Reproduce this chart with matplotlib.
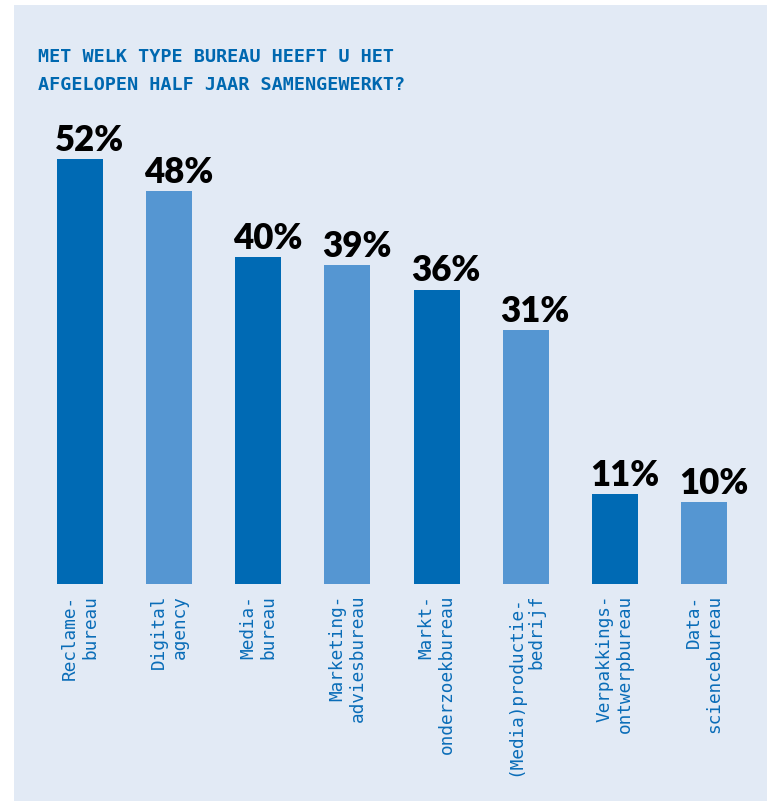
import matplotlib
matplotlib.use("Agg")
import matplotlib.pyplot as plt
from matplotlib.patches import Rectangle

# Survey results: agency types worked with in the past six months
categories = [
    "Reclame-\nbureau",
    "Digital\nagency",
    "Media-\nbureau",
    "Marketing-\nadviesbureau",
    "Markt-\nonderzoekbureau",
    "(Media)productie-\nbedrijf",
    "Verpakkings-\nontwerpbureau",
    "Data-\nsciencebureau",
]
values = [52, 48, 40, 39, 36, 31, 11, 10]
title_lines = ["MET WELK TYPE BUREAU HEEFT U HET",
               "AFGELOPEN HALF JAAR SAMENGEWERKT?"]

PANEL = "#E2EAF5"
DARK = "#006AB4"
LIGHT = "#5596D2"
TITLE = "#0068B0"
LABEL = "#0A6DB8"

W, H = 767, 803
fig = plt.figure(figsize=(W / 100, H / 100), dpi=100, facecolor="white")

# light panel behind everything
fig.patches.append(Rectangle((14 / W, 1 / H), 1 - 14 / W, (802 - 6) / H,
                             transform=fig.transFigure, facecolor=PANEL,
                             edgecolor="none", zorder=-10))

step = 89.14
left_px = 80 - 0.5 * step
bottom_px = 585
ymax = 60
px_per = 8.18
ax = fig.add_axes([left_px / W, (H - bottom_px) / H, 8 * step / W,
                   ymax * px_per / H])
ax.set_zorder(1)
ax.set_facecolor("none")
ax.set_xlim(-0.5, 7.5)
ax.set_ylim(0, ymax)

bar_w = 46 / step
x = list(range(len(values)))
colors = [DARK if i % 2 == 0 else LIGHT for i in x]
ax.bar(x, values, width=bar_w, color=colors, zorder=2)

for xi, v in zip(x, values):
    ax.annotate(f"{v}%", xy=(xi - bar_w / 2, v), xytext=(-1.5, 6.5),
                textcoords="offset points", ha="left", va="baseline",
                fontsize=25, fontweight="heavy", family=["Lato", "DejaVu Sans"],
                color="black")

ax.set_xticks(x)
ax.set_xticklabels(categories, rotation=90, ha="center", va="top",
                   multialignment="right", fontsize=12.8,
                   family=["DejaVu Sans Mono"], color=LABEL, linespacing=1.2)
ax.tick_params(axis="x", length=0, pad=7.2)
ax.set_yticks([])
for s in ax.spines.values():
    s.set_visible(False)

title_font = ["DejaVu Sans Mono"]
for line, base in zip(title_lines, (62, 90)):
    fig.text(38 / W, 1 - base / H, line, ha="left", va="baseline",
             fontsize=13.3, fontweight="bold", family=title_font, color=TITLE)

fig.savefig("out.png", dpi=100, facecolor="white")
